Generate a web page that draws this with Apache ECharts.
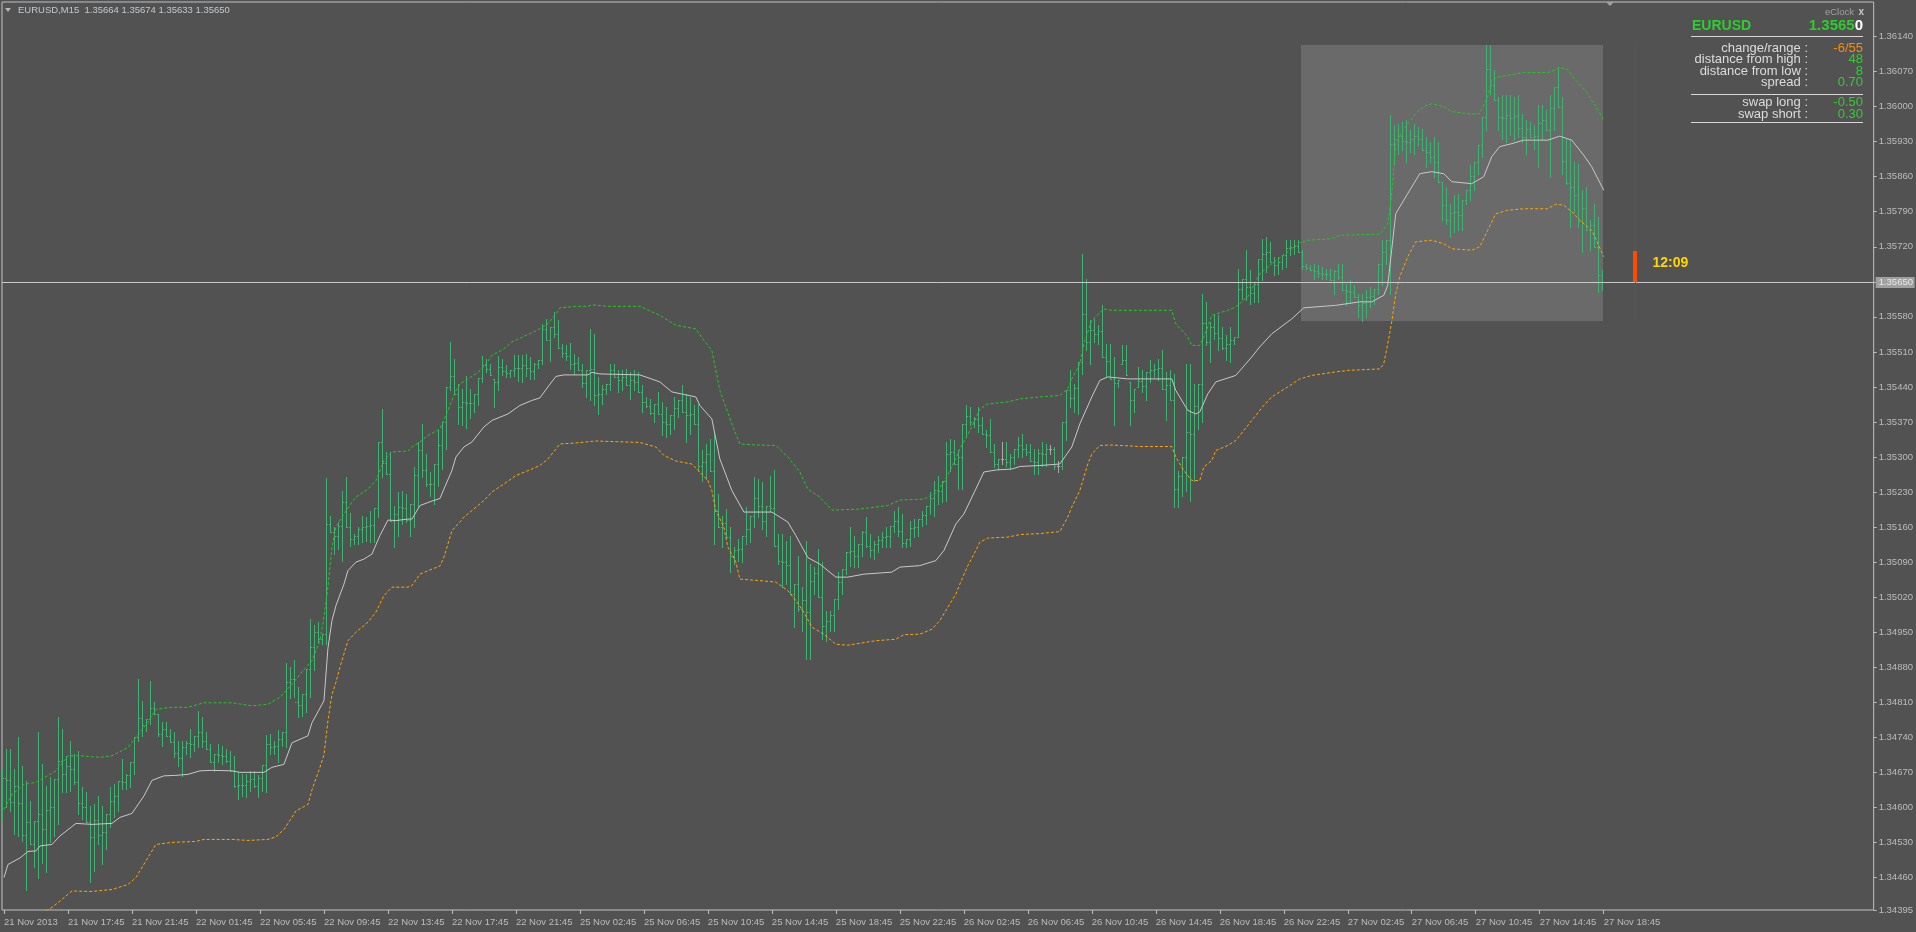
<!DOCTYPE html>
<html>
<head>
<meta charset="utf-8">
<script src="https://cdn.jsdelivr.net/npm/echarts@6/dist/echarts.min.js"></script>
<style>
html,body{margin:0;padding:0;background:#525252;overflow:hidden;}
#chart{width:1916px;height:932px;}
</style>
</head>
<body>
<div id="chart"></div>
<script>
// ---------------- DATA ----------------
const SYMBOL = 'EURUSD';
const TIMEFRAME = 'M15';
const PRICE_BASE = 1.34;      // prices are stored as points above this base
const POINT = 0.00001;

// time-axis labels (one every 16 bars of M15 = 4 hours)
const TICK_LABELS = ['21 Nov 2013','21 Nov 17:45','21 Nov 21:45','22 Nov 01:45','22 Nov 05:45','22 Nov 09:45',
  '22 Nov 13:45','22 Nov 17:45','22 Nov 21:45','25 Nov 02:45','25 Nov 06:45','25 Nov 10:45','25 Nov 14:45',
  '25 Nov 18:45','25 Nov 22:45','26 Nov 02:45','26 Nov 06:45','26 Nov 10:45','26 Nov 14:45','26 Nov 18:45',
  '26 Nov 22:45','27 Nov 02:45','27 Nov 06:45','27 Nov 10:45','27 Nov 14:45','27 Nov 18:45'];
const BARS_PER_LABEL = 16;
const SLOT_COUNT = 468;   // bar slots visible incl. right shift area

// price-axis tick labels (points above base)
const PRICE_TICKS = [2140,2070,2000,1930,1860,1790,1720,1650,1580,1510,1440,1370,1300,1230,1160,1090,1020,950,880,810,740,670,600,530,460,395];
const PRICE_MIN = 395, PRICE_MAX = 2209;

const barOpen = [640,658,655,611,642,608,544,570,527,573,587,557,595,600,656,693,667,683,676,650,
608,600,570,540,575,545,551,586,613,623,653,651,665,690,740,778,765,776,798,786,
747,757,743,730,708,698,720,728,726,743,750,733,716,690,706,705,703,693,673,643,
645,644,653,657,643,659,685,726,720,722,737,750,850,857,811,805,826,876,920,950,
936,946,1167,1150,1143,1163,1211,1160,1136,1143,1157,1160,1162,1164,1198,1330,1288,1266,1173,1187,
1200,1198,1175,1206,1265,1313,1275,1247,1246,1286,1323,1370,1440,1461,1426,1400,1410,1407,1408,1426,
1458,1483,1475,1456,1450,1480,1472,1467,1474,1478,1477,1484,1478,1472,1486,1494,1555,1533,1560,1546,
1518,1508,1502,1486,1487,1473,1447,1473,1475,1423,1425,1436,1446,1473,1460,1453,1460,1443,1454,1450,
1430,1410,1401,1388,1406,1386,1370,1365,1383,1397,1413,1390,1383,1385,1366,1283,1291,1305,1273,1193,
1160,1168,1140,1103,1115,1117,1143,1157,1183,1218,1203,1173,1203,1199,1123,1093,1090,1085,1026,1046,
997,1015,991,1053,1068,1020,963,973,985,1016,1051,1076,1110,1112,1103,1126,1150,1123,1115,1127,
1135,1140,1142,1163,1172,1153,1128,1136,1158,1160,1176,1185,1203,1218,1235,1232,1253,1305,1310,1286,
1301,1366,1382,1370,1375,1363,1346,1343,1310,1286,1296,1296,1291,1301,1316,1323,1315,1310,1293,1291,
1307,1305,1315,1315,1282,1282,1370,1433,1418,1438,1490,1585,1530,1553,1545,1552,1500,1491,1456,1447,
1486,1493,1450,1413,1440,1452,1442,1470,1473,1475,1478,1436,1443,1413,1237,1262,1300,1350,1345,1401,
1446,1567,1530,1560,1548,1538,1518,1525,1533,1540,1636,1656,1640,1628,1646,1695,1705,1710,1690,1683,
1690,1703,1718,1720,1722,1710,1681,1678,1673,1672,1668,1666,1665,1653,1671,1660,1633,1632,1630,1620,
1603,1607,1620,1621,1636,1686,1710,1733,1925,1936,1942,1932,1930,1936,1942,1935,1913,1910,1900,1890,
1850,1803,1773,1787,1790,1783,1813,1833,1862,1890,1923,1980,2075,2043,2013,1980,1977,1983,1977,1982,
1958,1940,1955,1940,1942,1968,1973,1953,1997,2040,2000,1891,1848,1840,1823,1772,1797,1753,1763,1720,
1664];
const barHigh = [674,716,716,676,740,683,653,613,573,750,686,643,660,656,780,756,703,733,706,713,
640,630,603,606,623,603,586,640,646,653,696,666,690,740,856,813,776,853,810,786,
770,770,756,750,733,733,733,756,743,793,780,750,726,706,726,723,716,713,703,670,
666,666,673,673,665,685,745,746,733,754,750,888,881,894,840,826,876,976,965,970,
946,1258,1183,1160,1170,1233,1261,1188,1146,1160,1183,1180,1193,1198,1330,1395,1310,1310,1203,1230,
1233,1226,1206,1280,1330,1366,1306,1270,1286,1353,1370,1440,1530,1496,1446,1436,1461,1436,1426,1458,
1501,1496,1486,1456,1501,1496,1483,1474,1503,1503,1503,1506,1500,1488,1494,1566,1576,1560,1590,1573,
1526,1523,1528,1506,1500,1486,1473,1556,1546,1460,1443,1446,1486,1486,1473,1473,1476,1470,1474,1470,
1443,1420,1416,1406,1430,1410,1400,1383,1420,1413,1443,1426,1420,1403,1405,1313,1326,1336,1348,1226,
1183,1196,1160,1120,1136,1143,1200,1183,1260,1256,1250,1203,1263,1274,1146,1146,1133,1143,1046,1103,
1040,1133,1086,1080,1116,1090,993,993,1016,1070,1076,1110,1161,1143,1126,1153,1180,1146,1133,1143,
1150,1160,1163,1193,1200,1186,1136,1173,1176,1176,1193,1203,1230,1253,1263,1253,1330,1336,1333,1313,
1366,1403,1400,1380,1400,1380,1353,1376,1326,1296,1330,1330,1306,1316,1340,1346,1326,1326,1316,1316,
1330,1326,1323,1320,1293,1370,1433,1473,1446,1490,1706,1656,1573,1576,1563,1603,1526,1526,1500,1453,
1523,1523,1450,1436,1480,1473,1470,1493,1486,1496,1513,1470,1473,1466,1273,1300,1486,1486,1446,1446,
1626,1610,1570,1583,1583,1560,1543,1560,1540,1676,1656,1713,1673,1646,1696,1736,1740,1730,1700,1700,
1703,1733,1733,1733,1733,1713,1686,1683,1686,1683,1680,1676,1676,1673,1686,1686,1646,1653,1643,1626,
1626,1633,1640,1636,1686,1733,1733,1983,1963,1966,1970,1973,1953,1966,1960,1956,1940,1930,1940,1930,
1850,1840,1806,1823,1826,1813,1833,1883,1890,1923,1980,2124,2123,2073,2020,2023,2023,2023,2020,2023,
1986,1973,1970,1963,2003,2003,1993,2023,2040,2080,2020,1936,1936,1890,1886,1833,1840,1773,1806,1780,
1674];
const barLow = [573,600,593,546,543,533,434,526,480,458,488,471,530,543,566,630,630,633,646,586,
576,570,450,473,526,486,516,560,580,593,636,636,640,666,733,743,753,766,786,743,
723,743,730,700,683,663,706,700,713,720,720,716,690,673,690,686,690,673,640,616,
623,621,633,640,620,633,630,706,706,690,723,720,818,820,781,783,790,820,874,930,
926,926,1150,1106,1116,1093,1160,1123,1126,1126,1130,1133,1130,1130,1180,1260,1266,1173,1121,1143,
1166,1170,1143,1160,1200,1260,1243,1223,1206,1243,1276,1316,1433,1426,1366,1363,1358,1378,1390,1404,
1450,1470,1463,1400,1433,1463,1460,1460,1461,1452,1450,1461,1456,1456,1478,1486,1533,1492,1540,1518,
1500,1493,1476,1466,1473,1440,1420,1413,1403,1386,1406,1426,1433,1460,1430,1433,1443,1416,1433,1430,
1390,1400,1386,1370,1386,1343,1340,1346,1356,1380,1390,1330,1346,1366,1273,1253,1256,1273,1126,1160,
1120,1140,1070,1086,1093,1090,1126,1130,1160,1180,1156,1143,1193,1123,1086,1040,1046,1026,960,993,
953,896,896,1026,1020,936,933,953,953,996,1026,1066,1083,1080,1080,1103,1120,1100,1096,1110,
1120,1120,1120,1150,1143,1120,1120,1123,1140,1143,1163,1166,1186,1183,1206,1210,1213,1273,1286,1236,
1236,1340,1363,1360,1350,1346,1320,1310,1280,1276,1286,1283,1276,1286,1300,1300,1303,1293,1266,1266,
1283,1283,1306,1276,1270,1276,1333,1400,1390,1386,1466,1513,1486,1530,1526,1500,1460,1456,1363,1440,
1486,1463,1363,1390,1440,1430,1413,1450,1460,1453,1436,1373,1413,1200,1200,1223,1233,1213,1253,1356,
1370,1523,1490,1536,1513,1516,1493,1490,1526,1540,1616,1613,1606,1610,1610,1653,1670,1690,1663,1666,
1676,1680,1703,1706,1710,1676,1676,1673,1656,1660,1656,1656,1653,1626,1656,1633,1603,1610,1620,1580,
1572,1580,1600,1606,1626,1643,1686,1626,1886,1906,1913,1890,1910,1906,1923,1913,1880,1890,1860,1850,
1773,1766,1740,1750,1753,1753,1806,1813,1833,1866,1900,1953,2026,2013,1953,1936,1930,1943,1933,1940,
1930,1906,1940,1916,1880,1933,1953,1860,1953,2000,1866,1846,1760,1790,1760,1710,1753,1713,1720,1630,
1633];
const barClose = [658,655,611,642,608,544,570,527,573,587,557,595,600,656,693,667,683,676,650,608,
600,570,540,575,545,551,586,613,623,653,651,665,690,740,778,765,776,798,786,747,
757,743,730,708,698,720,728,726,743,750,733,716,690,706,705,703,693,673,643,645,
644,653,657,643,659,685,726,720,722,737,750,850,857,811,805,826,876,920,950,936,
946,1167,1150,1143,1163,1211,1160,1136,1143,1157,1160,1162,1164,1198,1330,1288,1266,1173,1187,1200,
1198,1175,1206,1265,1313,1275,1247,1246,1286,1323,1370,1440,1461,1426,1400,1410,1407,1408,1426,1458,
1483,1475,1463,1450,1480,1472,1467,1474,1478,1477,1484,1478,1472,1486,1494,1555,1533,1560,1546,1518,
1508,1502,1486,1487,1473,1447,1473,1475,1423,1425,1436,1446,1473,1460,1453,1460,1443,1454,1450,1430,
1410,1401,1388,1406,1386,1370,1365,1383,1397,1413,1390,1383,1385,1366,1283,1291,1305,1273,1193,1160,
1168,1140,1103,1115,1117,1143,1157,1183,1218,1203,1173,1203,1199,1123,1093,1090,1085,1026,1046,997,
1015,991,1053,1068,1020,963,973,985,1016,1051,1076,1110,1112,1103,1126,1150,1123,1115,1127,1135,
1140,1142,1163,1172,1153,1128,1136,1158,1160,1176,1185,1203,1218,1235,1232,1253,1305,1310,1286,1301,
1366,1382,1370,1375,1363,1346,1343,1310,1286,1296,1296,1291,1301,1316,1323,1315,1310,1293,1291,1307,
1305,1315,1315,1282,1282,1370,1433,1418,1438,1490,1585,1530,1553,1545,1552,1500,1491,1456,1447,1453,
1493,1463,1413,1436,1452,1442,1470,1473,1475,1478,1436,1443,1413,1237,1262,1300,1350,1345,1401,1446,
1567,1530,1560,1548,1538,1518,1525,1533,1540,1636,1656,1640,1628,1646,1695,1705,1710,1690,1683,1690,
1703,1718,1720,1722,1710,1681,1678,1673,1672,1668,1666,1665,1653,1671,1660,1633,1632,1630,1620,1603,
1607,1620,1621,1636,1686,1710,1733,1925,1936,1942,1932,1930,1936,1942,1935,1913,1910,1900,1890,1850,
1803,1773,1787,1790,1783,1813,1833,1862,1890,1923,1980,2075,2043,2013,1980,1977,1983,1977,1982,1958,
1940,1955,1940,1942,1968,1973,1953,1997,2040,2000,1891,1848,1840,1823,1772,1797,1753,1763,1720,1664,
1650];

// channel lines: [bar index, points above base]
const upperBand = [[0,596],[2,626],[5,646],[8,650],[13,673],[16,703],[19,703],[24,700],[27,703],[31,720],[33,740],[36,770],[38,796],[42,800],[46,800],[50,809],[57,809],[62,803],[66,806],[69,820],[72,846],[74,866],[77,893],[79,933],[80,980],[81,1040],[82,1120],[83,1160],[85,1186],[87,1210],[88,1220],[91,1236],[93,1253],[95,1293],[97,1310],[101,1312],[102,1320],[104,1330],[106,1343],[109,1356],[111,1393],[113,1433],[114,1446],[116,1456],[118,1466],[120,1480],[122,1503],[125,1516],[127,1530],[130,1541],[133,1552],[136,1566],[138,1586],[139,1598],[143,1601],[146,1601],[147,1604],[151,1601],[159,1601],[164,1583],[168,1563],[173,1556],[175,1533],[177,1513],[179,1433],[182,1366],[184,1326],[188,1324],[193,1323],[196,1300],[199,1270],[201,1236],[204,1220],[207,1194],[214,1196],[221,1203],[224,1214],[230,1216],[233,1228],[235,1250],[237,1280],[239,1316],[242,1360],[244,1396],[246,1406],[251,1410],[254,1416],[259,1420],[264,1423],[266,1436],[267,1456],[269,1486],[270,1526],[272,1573],[275,1596],[277,1593],[292,1593],[293,1566],[296,1540],[297,1523],[299,1523],[300,1540],[301,1560],[302,1583],[306,1593],[308,1600],[311,1620],[314,1666],[317,1686],[321,1710],[324,1728],[326,1733],[332,1736],[334,1743],[344,1745],[346,1766],[347,1826],[348,1926],[350,1956],[353,1986],[355,2000],[357,2006],[360,2000],[362,1990],[367,1985],[369,1986],[371,2020],[372,2053],[374,2060],[380,2068],[386,2068],[388,2074],[389,2078],[391,2074],[393,2053],[396,2026],[398,2000],[400,1973]];
const middleLine = [[0,460],[1,486],[4,499],[6,512],[8,513],[9,523],[12,526],[14,543],[18,568],[22,566],[27,568],[29,580],[32,588],[35,623],[37,654],[40,663],[43,664],[46,666],[49,673],[52,674],[57,673],[59,670],[65,670],[67,680],[70,686],[72,729],[76,743],[77,769],[80,813],[81,918],[82,973],[83,1003],[85,1046],[86,1073],[88,1090],[90,1096],[92,1106],[94,1143],[96,1174],[98,1173],[101,1176],[102,1176],[104,1203],[107,1212],[109,1217],[110,1236],[112,1273],[113,1300],[115,1320],[117,1330],[120,1360],[122,1373],[126,1386],[129,1403],[132,1413],[134,1418],[136,1440],[138,1461],[140,1464],[146,1464],[147,1469],[149,1466],[159,1464],[164,1450],[167,1430],[173,1420],[174,1403],[177,1376],[179,1296],[182,1233],[185,1190],[192,1190],[196,1170],[198,1143],[201,1099],[204,1086],[208,1060],[211,1060],[215,1066],[222,1070],[224,1080],[229,1083],[233,1093],[235,1113],[238,1166],[240,1186],[243,1236],[245,1270],[248,1274],[252,1276],[254,1281],[259,1283],[264,1286],[267,1320],[269,1366],[272,1420],[274,1453],[276,1460],[281,1456],[292,1456],[293,1433],[296,1393],[298,1386],[299,1390],[301,1426],[303,1450],[308,1463],[312,1500],[314,1520],[317,1546],[322,1576],[325,1598],[333,1603],[339,1610],[342,1610],[345,1623],[346,1643],[347,1715],[348,1786],[350,1813],[354,1866],[357,1870],[360,1866],[362,1850],[367,1846],[370,1860],[372,1900],[374,1920],[377,1926],[380,1933],[386,1933],[389,1941],[392,1933],[395,1903],[397,1880],[400,1833]];
const lowerBand = [[0,362],[4,372],[9,386],[12,400],[14,413],[17,433],[22,432],[27,436],[31,446],[33,460],[36,500],[38,526],[42,530],[48,532],[50,536],[57,536],[61,534],[66,536],[68,541],[70,556],[72,580],[73,593],[76,606],[77,635],[79,680],[80,705],[81,773],[82,825],[83,850],[84,880],[86,933],[88,950],[91,970],[93,990],[95,1023],[97,1040],[101,1040],[102,1043],[104,1066],[107,1076],[109,1082],[110,1100],[111,1126],[112,1153],[114,1170],[115,1180],[117,1193],[120,1213],[122,1230],[125,1246],[128,1263],[132,1276],[134,1283],[136,1296],[138,1316],[139,1326],[143,1328],[148,1332],[159,1329],[163,1320],[165,1303],[168,1292],[172,1286],[174,1270],[176,1253],[177,1233],[178,1193],[180,1160],[181,1120],[183,1090],[184,1056],[189,1053],[193,1050],[196,1033],[198,1013],[200,990],[202,960],[205,946],[208,926],[211,924],[218,933],[223,936],[225,945],[229,946],[232,956],[234,973],[236,1000],[238,1026],[239,1046],[241,1083],[243,1113],[244,1130],[246,1138],[251,1140],[254,1145],[259,1147],[264,1151],[266,1180],[267,1200],[269,1233],[271,1286],[272,1306],[274,1323],[277,1324],[284,1321],[292,1321],[293,1300],[295,1273],[297,1253],[299,1253],[300,1280],[302,1293],[303,1313],[306,1323],[308,1333],[310,1353],[312,1373],[315,1403],[317,1420],[321,1440],[324,1456],[327,1463],[333,1470],[336,1473],[344,1476],[345,1486],[346,1526],[347,1570],[348,1626],[349,1660],[351,1700],[353,1730],[357,1733],[360,1726],[362,1716],[367,1713],[369,1720],[371,1753],[373,1786],[376,1793],[380,1796],[386,1796],[388,1805],[390,1803],[392,1790],[394,1773],[397,1753],[398,1736],[400,1700]];

const DAY_START = 325;          // first bar of 27 Nov
const CLOCK_SLOT = 408;         // slot of the eClock marker
const CLOCK_BAR_TOP = 1712;
const CLOCK_TEXT = '12:09';

const panelRows = [
  ['change/range :', '-6/55', '#ff8c00'],
  ['distance from high :', '48', '#32cd32'],
  ['distance from low :', '8', '#32cd32'],
  ['spread :', '0.70', '#32cd32']
];
const swapRows = [
  ['swap long :', '-0.50', '#32cd32'],
  ['swap short :', '0.30', '#32cd32']
];

// ---------------- STYLE ----------------
const BG = '#525252';
const FG = '#c0c0c0';
const BAR_COLOR = '#3cb371';
const DOJI_COLOR = '#a9a9a9';
const FONT = '"Liberation Sans", Arial, sans-serif';

const LAST = barClose.length - 1;
const fmt = v => (PRICE_BASE + v * POINT).toFixed(5);
const BID = barClose[LAST];
const dayHigh = Math.max(...barHigh.slice(DAY_START));
const dayLow = Math.min(...barLow.slice(DAY_START));

const categories = Array.from({length: SLOT_COUNT}, (_, i) =>
  (i % BARS_PER_LABEL === 0 && i / BARS_PER_LABEL < TICK_LABELS.length) ? TICK_LABELS[i / BARS_PER_LABEL] : '');

const barData = barOpen.map((o, i) => [i, o, barHigh[i], barLow[i], barClose[i]]);

function renderBar(params, api) {
  const i = api.value(0), o = api.value(1), h = api.value(2), l = api.value(3), c = api.value(4);
  const ph = api.coord([i, h]), pl = api.coord([i, l]);
  const po = api.coord([i, o]), pc = api.coord([i, c]);
  const x = Math.floor(ph[0]) - 1;
  const color = o === c ? DOJI_COLOR : BAR_COLOR;
  const yt = Math.round(ph[1]), yb = Math.round(pl[1]);
  return {
    type: 'group',
    children: [
      {type: 'rect', shape: {x: x, y: yt, width: 1, height: Math.max(1, yb - yt + 1)}, style: {fill: color}},
      {type: 'rect', shape: {x: x - 1, y: Math.round(po[1]), width: 1, height: 1}, style: {fill: color}},
      {type: 'rect', shape: {x: x + 1, y: Math.round(pc[1]), width: 1, height: 1}, style: {fill: color}}
    ]
  };
}

function renderDayBox(params, api) {
  const p1 = api.coord([api.value(0), api.value(3)]);
  const p2 = api.coord([api.value(1), api.value(2)]);
  return {type: 'rect', shape: {x: Math.floor(p1[0]) - 2, y: Math.round(p1[1]), width: Math.round(p2[0] - p1[0]) + 2, height: Math.round(p2[1] - p1[1])},
    style: {fill: '#6a6a6a'}};
}

function renderBidLine(params, api) {
  const cs = params.coordSys;
  const y = Math.round(api.coord([0, api.value(1)])[1]) + 0.5;
  return {
    type: 'group',
    children: [
      {type: 'line', shape: {x1: cs.x, y1: y, x2: cs.x + cs.width, y2: y}, style: {stroke: '#c8c8c8', lineWidth: 1}},
      {type: 'rect', shape: {x: cs.x + cs.width + 2, y: y - 5.5, width: 39, height: 11}, style: {fill: '#a0a0a0'}},
      {type: 'text', x: cs.x + cs.width + 5, y: y, style: {text: fmt(api.value(1)), fill: '#e8e8e8', font: '9.5px ' + FONT, align: 'left', verticalAlign: 'middle'}}
    ]
  };
}

function renderClock(params, api) {
  const slot = api.value(0);
  const top = api.coord([slot, dayHigh]), bot = api.coord([slot, dayLow]);
  const b1 = api.coord([slot, BID]), b2 = api.coord([slot, CLOCK_BAR_TOP]);
  const x = Math.floor(top[0]) + 0.5;
  return {
    type: 'group',
    children: [
      {type: 'line', shape: {x1: x, y1: Math.round(top[1]), x2: x, y2: Math.round(bot[1])}, style: {stroke: '#d0202a', lineWidth: 1}},
      {type: 'rect', shape: {x: x - 2.5, y: Math.round(b2[1]), width: 4, height: Math.round(b1[1] - b2[1])}, style: {fill: '#ff4a00'}},
      {type: 'text', x: x + 17, y: (b1[1] + b2[1]) / 2 - 3, style: {text: CLOCK_TEXT, fill: '#ffd700', font: 'bold 14px ' + FONT, align: 'left', verticalAlign: 'middle'}}
    ]
  };
}

const chart = echarts.init(document.getElementById('chart'), null, {renderer: 'canvas'});

const graphic = [];
// title
graphic.push({type: 'polygon', shape: {points: [[5, 8], [11, 8], [8, 12]]}, style: {fill: '#b8b8b8'}});
graphic.push({type: 'text', x: 18, y: 10, style: {text: SYMBOL + ',' + TIMEFRAME + '  ' + [barOpen[LAST], barHigh[LAST], barLow[LAST], barClose[LAST]].map(fmt).join(' '),
  fill: '#c4c8cc', font: '9.5px ' + FONT, verticalAlign: 'middle'}});
// chart shift marker
graphic.push({type: 'polygon', shape: {points: [[1606, 2], [1614, 2], [1610, 6]]}, style: {fill: '#a0a0a0'}});
// eClock panel
const PR = 1863, PL = 1691, LR = 1808;
graphic.push({type: 'text', x: 1854, y: 12, style: {text: 'eClock', fill: '#a0a0a0', font: '9.5px ' + FONT, align: 'right', verticalAlign: 'middle'}});
graphic.push({type: 'text', x: 1864, y: 12, style: {text: 'x', fill: '#c8c8c8', font: 'bold 10px ' + FONT, align: 'right', verticalAlign: 'middle'}});
graphic.push({type: 'text', x: 1692, y: 26, style: {text: SYMBOL, fill: '#2ecc2e', font: 'bold 14px ' + FONT, verticalAlign: 'middle'}});
const bidStr = fmt(BID);
graphic.push({type: 'text', x: PR, y: 26, style: {text: '{g|' + bidStr.slice(0, -1) + '}{w|' + bidStr.slice(-1) + '}', align: 'right', verticalAlign: 'middle',
  rich: {g: {fill: '#2ecc2e', font: 'bold 15px ' + FONT}, w: {fill: '#ffffff', font: 'bold 15px ' + FONT}}}});
[36.5, 94.5, 122.5].forEach(y => graphic.push({type: 'line', shape: {x1: PL, y1: y, x2: PR, y2: y}, style: {stroke: '#d8d8d8', lineWidth: 1}}));
panelRows.forEach((r, k) => {
  const y = 48 + k * 11.5;
  graphic.push({type: 'text', x: LR, y: y, style: {text: r[0], fill: '#dcdcdc', font: '13px ' + FONT, align: 'right', verticalAlign: 'middle'}});
  graphic.push({type: 'text', x: PR, y: y, style: {text: r[1], fill: r[2], font: '13px ' + FONT, align: 'right', verticalAlign: 'middle'}});
});
swapRows.forEach((r, k) => {
  const y = 102 + k * 12.5;
  graphic.push({type: 'text', x: LR, y: y, style: {text: r[0], fill: '#dcdcdc', font: '13px ' + FONT, align: 'right', verticalAlign: 'middle'}});
  graphic.push({type: 'text', x: PR, y: y, style: {text: r[1], fill: r[2], font: '13px ' + FONT, align: 'right', verticalAlign: 'middle'}});
});

const lineCommon = {type: 'line', showSymbol: false, symbol: 'none', silent: true, z: 4, animation: false};

chart.setOption({
  backgroundColor: BG,
  animation: false,
  grid: {left: 2, right: 42, top: 2, bottom: 22, show: true, borderColor: FG, borderWidth: 1, backgroundColor: 'transparent'},
  xAxis: {
    type: 'category', data: categories, boundaryGap: true,
    axisLine: {show: false},
    axisTick: {show: true, alignWithLabel: true, length: 4, interval: (i, v) => v !== '', lineStyle: {color: FG}},
    axisLabel: {interval: (i, v) => v !== '', align: 'left', color: '#bcbcbc', fontSize: 9.5, fontFamily: FONT, margin: 7},
    splitLine: {show: false}
  },
  yAxis: {
    type: 'value', position: 'right', min: PRICE_MIN, max: PRICE_MAX, scale: true,
    axisLine: {show: false},
    axisTick: {show: true, length: 3, customValues: PRICE_TICKS, lineStyle: {color: FG}},
    axisLabel: {customValues: PRICE_TICKS, formatter: fmt, color: '#bcbcbc', fontSize: 9.5, fontFamily: FONT, margin: 5},
    splitLine: {show: false}
  },
  graphic: graphic,
  series: [
    {type: 'custom', name: 'day range', renderItem: renderDayBox, data: [[DAY_START, LAST, dayLow, dayHigh]], encode: {x: [0, 1], y: [2, 3]}, z: 1, silent: true},
    {type: 'custom', name: 'bars', renderItem: renderBar, data: barData, encode: {x: 0, y: [1, 2, 3, 4]}, z: 3, silent: true, clip: true},
    Object.assign({}, lineCommon, {name: 'upper', data: upperBand, lineStyle: {color: '#22c822', width: 1, type: [3, 2]}}),
    Object.assign({}, lineCommon, {name: 'middle', data: middleLine, lineStyle: {color: '#c8c8c8', width: 1}}),
    Object.assign({}, lineCommon, {name: 'lower', data: lowerBand, lineStyle: {color: '#ffa500', width: 1, type: [3, 2]}}),
    {type: 'custom', name: 'bid', renderItem: renderBidLine, data: [[0, BID]], encode: {x: 0, y: 1}, z: 5, silent: true},
    {type: 'custom', name: 'clock', renderItem: renderClock, data: [[CLOCK_SLOT, BID]], encode: {x: 0, y: 1}, z: 5, silent: true}
  ]
});
</script>
</body>
</html>
